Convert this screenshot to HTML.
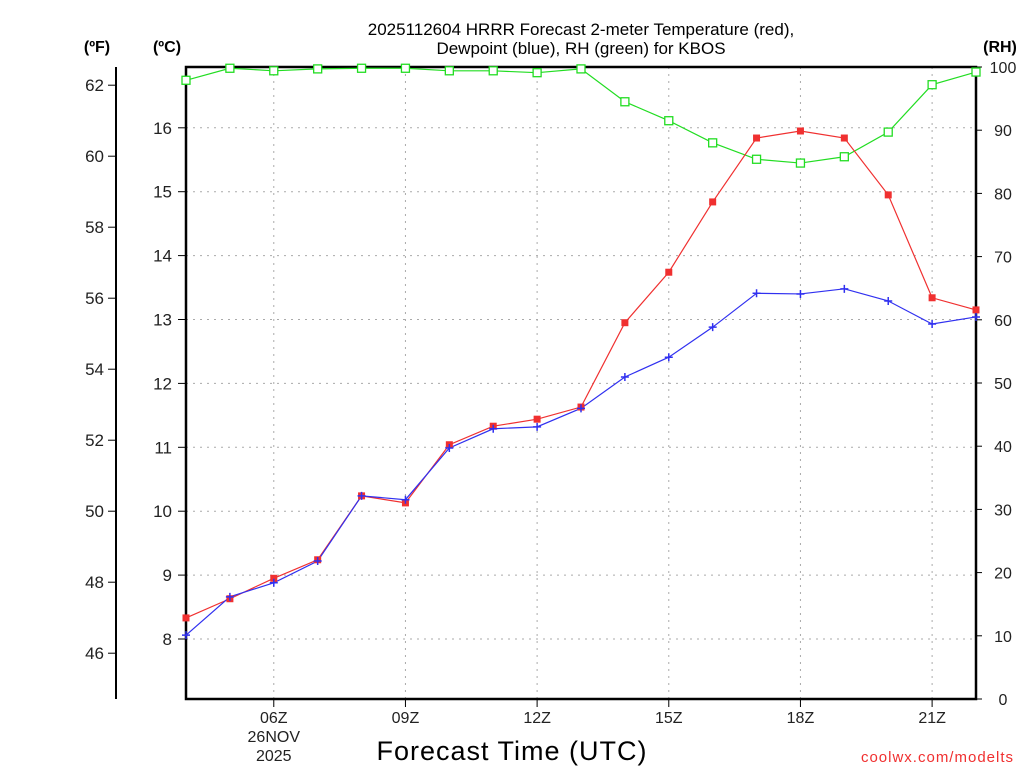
<!DOCTYPE html>
<html><head><meta charset="utf-8"><style>
html,body{margin:0;padding:0;background:#fff;width:1024px;height:768px;overflow:hidden}
svg{display:block;font-family:"Liberation Sans","DejaVu Sans",sans-serif}
</style></head><body>
<svg id="chart" width="1024" height="768" viewBox="0 0 1024 768">
<text x="581" y="35" text-anchor="middle" font-size="17" fill="#000">2025112604 HRRR Forecast 2-meter Temperature (red),</text>
<text x="581" y="54" text-anchor="middle" font-size="17" fill="#000">Dewpoint (blue), RH (green) for KBOS</text>
<text x="97" y="52" text-anchor="middle" font-size="16" font-weight="bold">(ºF)</text>
<text x="167" y="52" text-anchor="middle" font-size="16" font-weight="bold">(ºC)</text>
<text x="1000" y="52" text-anchor="middle" font-size="16" font-weight="bold">(RH)</text>
<text x="512" y="760" text-anchor="middle" font-size="27" letter-spacing="1">Forecast Time (UTC)</text>
<text x="1014" y="762" text-anchor="end" font-size="15" fill="#f03030" letter-spacing="1">coolwx.com/modelts</text>
<g id="g"></g>
</svg>
<script>
const hours = [4,5,6,7,8,9,10,11,12,13,14,15,16,17,18,19,20,21,22];
const tempC = [8.33,8.63,8.95,9.24,10.24,10.13,11.04,11.33,11.44,11.63,12.95,13.74,14.84,15.84,15.95,15.84,14.95,13.34,13.15];
const dewC = [8.06,8.66,8.88,9.22,10.24,10.18,10.99,11.29,11.32,11.61,12.10,12.41,12.88,13.41,13.40,13.48,13.29,12.93,13.04];
const rh = [97.9,99.8,99.4,99.7,99.8,99.8,99.4,99.4,99.1,99.7,94.5,91.5,88.0,85.4,84.8,85.8,89.7,97.2,99.2];
const cTicks = [8,9,10,11,12,13,14,15,16];
const fTicks = [46,48,50,52,54,56,58,60,62];
const rhTicks = [0,10,20,30,40,50,60,70,80,90,100];
const xTickHours = [6,9,12,15,18,21];
const xTickLabels = ["06Z","09Z","12Z","15Z","18Z","21Z"];

const L=186,R=976,T=67,B=699;
const X=h=>L+(h-4)*(R-L)/18;
const YC=c=>639-(c-8)*63.9;
const YF=f=>YC((f-32)*5/9);
const YR=r=>B-r*(B-T)/100;
const g=document.getElementById('g');
const NS='http://www.w3.org/2000/svg';
function mk(t,a,name){const e=document.createElementNS(NS,t);for(const k in a)e.setAttribute(k,a[k]);


g.appendChild(e);return e;}
cTicks.forEach(c=>{mk('line',{x1:L,x2:R,y1:YC(c),y2:YC(c),stroke:'#aaa','stroke-dasharray':'2,5'},'grid-h');});
xTickHours.forEach(h=>{mk('line',{x1:X(h),x2:X(h),y1:T,y2:B,stroke:'#aaa','stroke-dasharray':'2,5'},'grid-v');});
mk('rect',{x:L,y:T,width:R-L,height:B-T,fill:'none',stroke:'#000','stroke-width':2.5},'plot-frame');
mk('line',{x1:116,x2:116,y1:T,y2:B,stroke:'#000','stroke-width':2},'fahrenheit-axis');
cTicks.forEach(c=>{mk('line',{x1:L-8,x2:L,y1:YC(c),y2:YC(c),stroke:'#000'},'celsius-tick');
 const t=mk('text',{x:L-14,y:YC(c)+6,'text-anchor':'end','font-size':17,fill:'#222'},'celsius-tick-label');t.textContent=c;});
fTicks.forEach(f=>{mk('line',{x1:108,x2:116,y1:YF(f),y2:YF(f),stroke:'#000'},'fahrenheit-tick');
 const t=mk('text',{x:104,y:YF(f)+6,'text-anchor':'end','font-size':17,fill:'#222'},'fahrenheit-tick-label');t.textContent=f;});
rhTicks.forEach(r=>{mk('line',{x1:R,x2:R+6,y1:YR(r),y2:YR(r),stroke:'#000'},'rh-tick');
 const t=mk('text',{x:1003,y:YR(r)+6,'text-anchor':'middle','font-size':16,fill:'#222'},'rh-tick-label');t.textContent=r;});
xTickHours.forEach((h,i)=>{mk('line',{x1:X(h),x2:X(h),y1:B,y2:B+8,stroke:'#000'},'x-tick');
 const t=mk('text',{x:X(h),y:723,'text-anchor':'middle','font-size':16,fill:'#222'},'x-tick-label');t.textContent=xTickLabels[i];});
[['26NOV',742],['2025',761]].forEach(([s,y])=>{const t=mk('text',{x:X(6),y:y,'text-anchor':'middle','font-size':16,fill:'#222'},'date-label');t.textContent=s;});
function line(vals,yf,col,name){mk('polyline',{points:vals.map((v,i)=>X(hours[i])+','+yf(v)).join(' '),fill:'none',stroke:col,'stroke-width':1.2},name);}
line(rh,YR,'#22dd22','rh-line');
line(tempC,YC,'#f03030','temperature-line');
line(dewC,YC,'#3030f0','dewpoint-line');
rh.forEach((v,i)=>mk('rect',{x:X(hours[i])-4,y:YR(v)-4,width:8,height:8,fill:'#fff',stroke:'#22dd22','stroke-width':1.3},'rh-marker'));
tempC.forEach((v,i)=>mk('rect',{x:X(hours[i])-3.5,y:YC(v)-3.5,width:7,height:7,fill:'#f03030'},'temperature-marker'));
dewC.forEach((v,i)=>{const x=X(hours[i]),y=YC(v);
 mk('path',{d:`M${x-4},${y}H${x+4}M${x},${y-4}V${y+4}`,stroke:'#3030f0','stroke-width':1.5},'dewpoint-marker');});
</script>
</body></html>
